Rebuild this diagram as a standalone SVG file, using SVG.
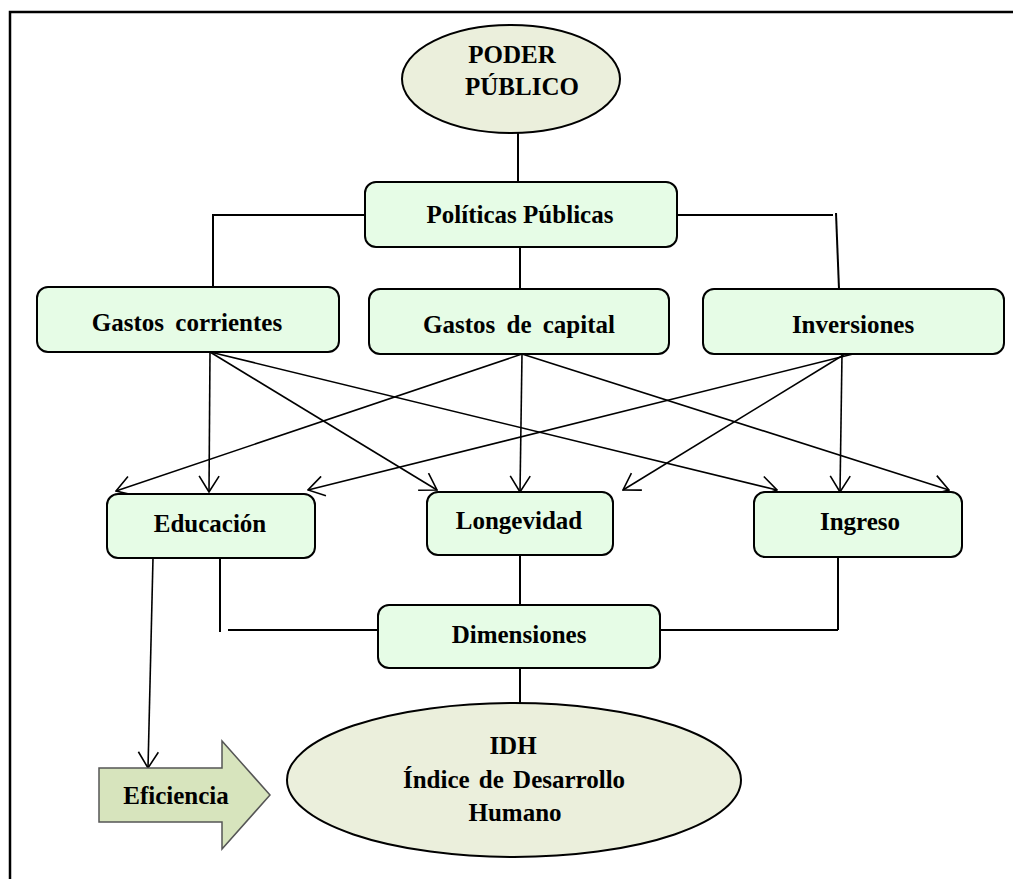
<svg xmlns="http://www.w3.org/2000/svg" width="1013" height="879" viewBox="0 0 1013 879">
<style>
  .box { fill: #e6fce6; stroke: #000; stroke-width: 2; }
  .ell { fill: #ebefdc; stroke: #000; stroke-width: 2; }
  .lbl { font-family: "Liberation Serif", "Times New Roman", serif; font-weight: bold; font-size: 25px; fill: #000; text-anchor: middle; }
  .ln { stroke: #000; stroke-width: 2; fill: none; }
  .ar { stroke: #000; stroke-width: 1.6; fill: none; marker-end: url(#v); }
</style>
<defs>
  <marker id="v" markerUnits="userSpaceOnUse" viewBox="0 0 18 22" refX="17" refY="11" markerWidth="18" markerHeight="22" orient="auto">
    <path d="M1,1 L17,11 L1,21" fill="none" stroke="#000" stroke-width="1.6"/>
  </marker>
</defs>
<rect x="0" y="0" width="1013" height="879" fill="#fff"/>
<path d="M10,890 L10,12 L1030,12" fill="none" stroke="#000" stroke-width="2.5"/>

<g id="connectors">
  <line class="ln" x1="518" y1="133" x2="518" y2="182"/>
  <polyline class="ln" points="365,215 213,215 213,288"/>
  <polyline class="ln" points="677,215 833,215"/>
  <line class="ln" x1="836" y1="213" x2="839" y2="289"/>
  <line class="ln" x1="520" y1="247" x2="520" y2="289"/>

  <line class="ar" x1="210" y1="352" x2="209" y2="492"/>
  <line class="ar" x1="210" y1="352" x2="437" y2="490"/>
  <line class="ar" x1="210" y1="352" x2="777" y2="490"/>
  <line class="ar" x1="522" y1="354" x2="116" y2="491"/>
  <line class="ar" x1="522" y1="354" x2="520" y2="492"/>
  <line class="ar" x1="522" y1="354" x2="949" y2="490"/>
  <line class="ar" x1="853" y1="354" x2="308" y2="490"/>
  <line class="ar" x1="845" y1="354" x2="623" y2="490"/>
  <line class="ar" x1="842" y1="354" x2="840" y2="492"/>

  <polyline class="ln" points="220,558 220,632"/>
  <line class="ln" x1="228" y1="630" x2="378" y2="630"/>
  <line class="ln" x1="660" y1="630" x2="838" y2="630"/>
  <line class="ln" x1="838" y1="557" x2="838" y2="630"/>
  <line class="ln" x1="520" y1="555" x2="520" y2="605"/>
  <line class="ln" x1="520" y1="668" x2="520" y2="704"/>
  <line class="ar" x1="153" y1="558" x2="148" y2="768"/>
</g>

<g id="poder-publico">
  <ellipse class="ell" cx="511" cy="79" rx="109" ry="54"/>
  <text class="lbl" x="512" y="63">PODER</text>
  <text class="lbl" x="522" y="95">PÚBLICO</text>
</g>

<g id="politicas-publicas">
  <rect class="box" x="365" y="182" width="312" height="65" rx="11"/>
  <text class="lbl" x="520" y="223">Políticas Públicas</text>
</g>

<g id="gastos-corrientes">
  <rect class="box" x="37" y="287" width="302" height="65" rx="11"/>
  <text class="lbl" x="187" y="331" word-spacing="5">Gastos corrientes</text>
</g>

<g id="gastos-capital">
  <rect class="box" x="369" y="289" width="300" height="65" rx="11"/>
  <text class="lbl" x="519" y="333" word-spacing="5">Gastos de capital</text>
</g>

<g id="inversiones">
  <rect class="box" x="703" y="289" width="301" height="65" rx="11"/>
  <text class="lbl" x="853" y="333">Inversiones</text>
</g>

<g id="educacion">
  <rect class="box" x="107" y="494" width="208" height="64" rx="11"/>
  <text class="lbl" x="210" y="532">Educación</text>
</g>

<g id="longevidad">
  <rect class="box" x="427" y="492" width="186" height="63" rx="11"/>
  <text class="lbl" x="519" y="529">Longevidad</text>
</g>

<g id="ingreso">
  <rect class="box" x="754" y="492" width="208" height="65" rx="11"/>
  <text class="lbl" x="860" y="530">Ingreso</text>
</g>

<g id="dimensiones">
  <rect class="box" x="378" y="605" width="282" height="63" rx="11"/>
  <text class="lbl" x="519" y="643">Dimensiones</text>
</g>

<g id="idh">
  <ellipse class="ell" cx="514" cy="780" rx="227" ry="77"/>
  <text class="lbl" x="513" y="754">IDH</text>
  <text class="lbl" x="514" y="788" word-spacing="3">Índice de Desarrollo</text>
  <text class="lbl" x="515" y="821">Humano</text>
</g>

<g id="eficiencia">
  <path d="M99,768 L222,768 L222,741 L270,795 L222,849 L222,822 L99,822 Z" fill="#d7e4bd" stroke="#555" stroke-width="1.5"/>
  <text class="lbl" x="176" y="804">Eficiencia</text>
</g>
</svg>
